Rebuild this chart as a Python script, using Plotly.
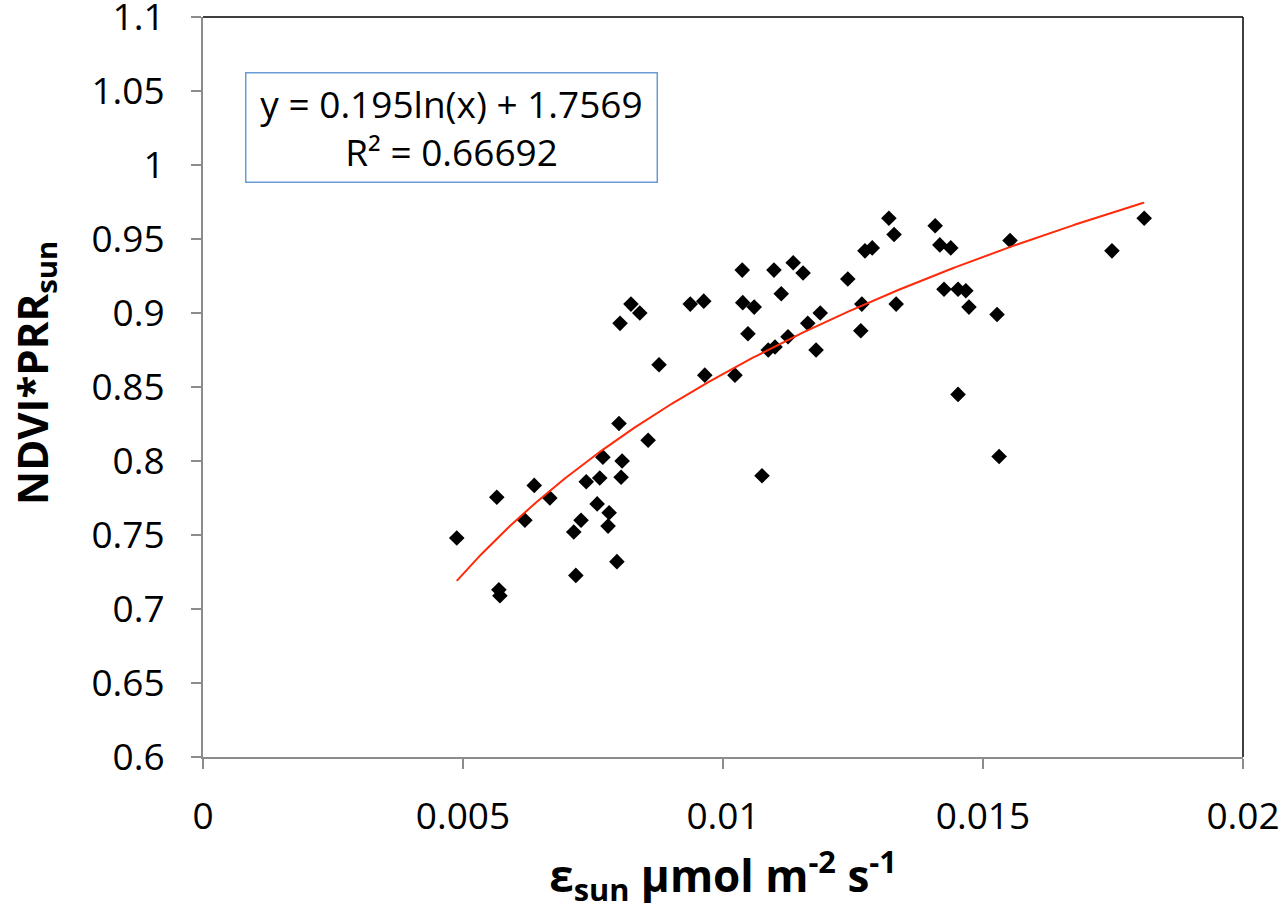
import numpy as np
import plotly.graph_objects as go

# Data
eps_sun = [0.00488, 0.00565, 0.00569, 0.00571, 0.00619, 0.00637, 0.00667, 0.00713,
           0.00717, 0.00727, 0.00737, 0.00758, 0.00763, 0.00769, 0.00781, 0.00779,
           0.00796, 0.00800, 0.00802, 0.00804, 0.00806, 0.00823, 0.00840, 0.00856,
           0.00877, 0.00937, 0.00963, 0.00965, 0.01023, 0.01037, 0.01038, 0.01048,
           0.01060, 0.01075, 0.01087, 0.01098, 0.01100, 0.01112, 0.01125, 0.01135,
           0.01154, 0.01163, 0.01179, 0.01187, 0.01240, 0.01265, 0.01267, 0.01273,
           0.01287, 0.01319, 0.01329, 0.01333, 0.01408, 0.01417, 0.01425, 0.01438,
           0.01452, 0.01452, 0.01467, 0.01473, 0.01527, 0.01531, 0.01552, 0.01748,
           0.01810]
ndvi_prr = [0.748, 0.7755, 0.713, 0.709, 0.760, 0.7835, 0.775, 0.752,
            0.7227, 0.760, 0.786, 0.771, 0.7885, 0.8026, 0.765, 0.756,
            0.732, 0.8253, 0.893, 0.789, 0.800, 0.906, 0.900, 0.814,
            0.865, 0.906, 0.908, 0.858, 0.858, 0.929, 0.907, 0.886,
            0.904, 0.790, 0.875, 0.929, 0.877, 0.913, 0.884, 0.934,
            0.927, 0.893, 0.875, 0.900, 0.923, 0.888, 0.906, 0.942,
            0.944, 0.964, 0.953, 0.906, 0.959, 0.946, 0.916, 0.944,
            0.916, 0.845, 0.915, 0.904, 0.899, 0.803, 0.949, 0.942,
            0.964]

# Trendline coefficients shown on the chart: y = a ln(x) + b
trend_a = 0.195
trend_b = 1.7569
trend_label = "y = 0.195ln(x) + 1.7569<br>R² = 0.66692"

x_ticks = [0, 0.005, 0.01, 0.015, 0.02]
x_ticktext = ["0", "0.005", "0.01", "0.015", "0.02"]
y_ticks = [0.6, 0.65, 0.7, 0.75, 0.8, 0.85, 0.9, 0.95, 1.0, 1.05, 1.1]
y_ticktext = ["0.6", "0.65", "0.7", "0.75", "0.8", "0.85", "0.9", "0.95", "1", "1.05", "1.1"]

x_title = "<b>ε<sub>sun</sub> μmol m<sup>-2</sup> s<sup>-1</sup></b>"
y_title = "<b>NDVI*PRR<sub>sun</sub></b>"

xt = np.linspace(min(eps_sun), max(eps_sun), 300)
yt = trend_a * np.log(xt) + trend_b

FONT = "Open Sans"
AXIS_GRAY = "#8c8c8c"

fig = go.Figure()
fig.add_trace(go.Scatter(
    x=eps_sun, y=ndvi_prr, mode="markers",
    marker=dict(symbol="diamond", size=12, color="black"),
    showlegend=False,
))
fig.add_trace(go.Scatter(
    x=xt, y=yt, mode="lines",
    line=dict(color="#FF2A0A", width=2),
    showlegend=False,
))

fig.update_layout(
    width=1285, height=911, autosize=False,
    margin=dict(l=203, r=42, t=17, b=154),
    paper_bgcolor="white", plot_bgcolor="white",
    font=dict(family=FONT, color="black"),
    xaxis=dict(
        range=[0, 0.02], tickvals=x_ticks, ticktext=x_ticktext,
        showgrid=False, zeroline=False, automargin=False,
        showline=True, linecolor=AXIS_GRAY, linewidth=2,
        ticks="outside", ticklen=10, tickcolor=AXIS_GRAY, tickwidth=1.5,
        tickfont=dict(size=37, family=FONT, color="black"),
        ticklabelstandoff=16, ticklabeloverflow="allow",
        title=dict(text=x_title,
                   font=dict(size=44, family=FONT, color="black"), standoff=7),
    ),
    yaxis=dict(
        range=[0.6, 1.1], tickvals=y_ticks, ticktext=y_ticktext,
        showgrid=False, zeroline=False, automargin=False,
        showline=True, linecolor=AXIS_GRAY, linewidth=2,
        ticks="outside", ticklen=10, tickcolor=AXIS_GRAY, tickwidth=1.5,
        tickfont=dict(size=37, family=FONT, color="black"),
        ticklabelstandoff=19, ticklabeloverflow="allow",
    ),
    shapes=[
        dict(type="line", xref="paper", yref="paper", x0=0, x1=1, y0=1, y1=1,
             line=dict(color="black", width=1.5)),
        dict(type="line", xref="paper", yref="paper", x0=1, x1=1, y0=0, y1=1,
             line=dict(color="black", width=1.5)),
    ],
    annotations=[
        dict(text=trend_label, xref="paper", yref="paper", x=0.2385, y=0.851,
             xanchor="center", yanchor="middle", showarrow=False,
             font=dict(size=37, family=FONT, color="black"),
             bordercolor="#6A9BD4", borderwidth=1.5, borderpad=0,
             bgcolor="white", width=410, height=108, align="center"),
        dict(text=y_title, xref="paper", yref="paper", x=-0.1615, y=0.519,
             xanchor="center", yanchor="middle", showarrow=False, textangle=-90,
             font=dict(size=42, family=FONT, color="black")),
    ],
)

fig.write_html("out.html")
